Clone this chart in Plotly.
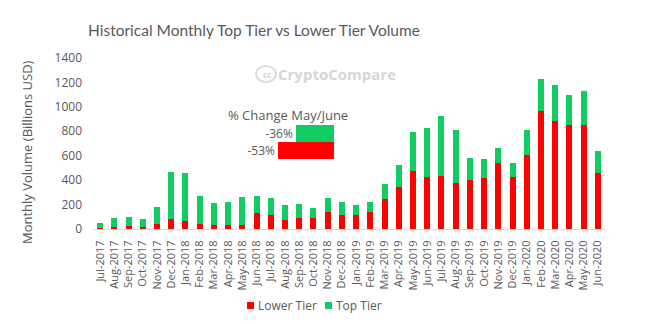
import plotly.graph_objects as go

months = ["Jul-2017", "Aug-2017", "Sep-2017", "Oct-2017", "Nov-2017", "Dec-2017",
          "Jan-2018", "Feb-2018", "Mar-2018", "Apr-2018", "May-2018", "Jun-2018",
          "Jul-2018", "Aug-2018", "Sep-2018", "Oct-2018", "Nov-2018", "Dec-2018",
          "Jan-2019", "Feb-2019", "Mar-2019", "Apr-2019", "May-2019", "Jun-2019",
          "Jul-2019", "Aug-2019", "Sep-2019", "Oct-2019", "Nov-2019", "Dec-2019",
          "Jan-2020", "Feb-2020", "Mar-2020", "Apr-2020", "May-2020", "Jun-2020"]

lower_tier = [10, 20, 28, 20, 42, 85, 68, 42, 33, 33, 33, 134,
              115, 74, 90, 90, 140, 115, 115, 140, 246, 347, 476, 426,
              435, 377, 402, 418, 541, 426, 607, 968, 886, 853, 853, 459]

top_tier = [42, 73, 72, 65, 138, 382, 392, 228, 182, 191, 232, 139,
            139, 123, 115, 82, 114, 106, 82, 81, 123, 178, 319, 402,
            492, 435, 180, 156, 123, 115, 205, 262, 294, 246, 279, 181]

y_ticks = [0, 200, 400, 600, 800, 1000, 1200, 1400]

change_values = [-36, -53]   # Top Tier, Lower Tier

RED = "#FF0000"
GREEN = "#10CC63"
GREY = "#595959"
FONT = "Open Sans"

# plot area in pixels
L, R, T, B = 93, 605, 58, 229
W, H = R - L, B - T


def px(x):
    return (x - L) / W


def py(y):
    return (B - y) / H


def note(text, x, y, size, color=GREY, **kw):
    fig.add_annotation(text=text, xref="paper", yref="paper", x=px(x), y=py(y),
                       showarrow=False, xanchor=kw.pop("xanchor", "center"),
                       yanchor="middle", font=dict(size=size, color=color), **kw)


fig = go.Figure()
fig.add_trace(go.Bar(x=months, y=lower_tier, name="Lower Tier",
                     marker=dict(color=RED, line=dict(width=0)), width=0.42))
fig.add_trace(go.Bar(x=months, y=top_tier, name="Top Tier",
                     marker=dict(color=GREEN, line=dict(width=0)), width=0.42))

# inset: % change May/June
fig.add_trace(go.Bar(x=change_values, y=[1, 0], orientation="h",
                     xaxis="x2", yaxis="y2", width=1, showlegend=False,
                     marker=dict(color=[GREEN, RED], line=dict(width=0)),
                     text=[f"{v}%" for v in change_values], textposition="outside",
                     textfont=dict(size=12, color=GREY, family=FONT),
                     cliponaxis=False, hoverinfo="skip"))

fig.update_layout(
    width=657, height=324,
    margin=dict(l=L, r=657 - R, t=T, b=324 - B, autoexpand=False),
    paper_bgcolor="white", plot_bgcolor="white",
    barmode="stack",
    showlegend=False,
    font=dict(family=FONT, color=GREY),
    title=dict(text="Historical Monthly Top Tier vs Lower Tier Volume",
               x=88 / 657, xanchor="left", y=1 - 31 / 324, yanchor="middle",
               font=dict(size=15.5, color=GREY, family="Lato")),
    xaxis=dict(type="category", tickangle=-90, tickfont=dict(size=11, color=GREY),
               showline=True, linecolor="#D9D9D9", linewidth=1, ticks="",
               showgrid=False, fixedrange=True, automargin=False,
               ticklabelstandoff=6),
    yaxis=dict(range=[0, 1400], tickvals=y_ticks,
               tickfont=dict(size=12, color=GREY), showgrid=False, zeroline=False,
               showline=False, ticks="", ticklabelstandoff=10, automargin=False,
               fixedrange=True),
    xaxis2=dict(domain=[px(278), px(334)], range=[-53, 0],
                anchor="y2", visible=False, fixedrange=True),
    yaxis2=dict(domain=[py(159.3), py(125)], range=[-0.5, 1.5],
                anchor="x2", visible=False, fixedrange=True),
)

# y-axis title
note("Monthly Volume (Billions USD)", 27, 152, 13, textangle=-90)

note("% Change May/June", 288, 115, 13)

# legend
legend_items = [("Lower Tier", RED, 247), ("Top Tier", GREEN, 325)]
for name, color, x0 in legend_items:
    fig.add_shape(type="rect", xref="paper", yref="paper",
                  x0=px(x0), x1=px(x0 + 7), y0=py(309), y1=py(302),
                  fillcolor=color, line=dict(width=0))
    note(name, x0 + 9, 305.5, 12, xanchor="left")

# watermark
note("<b>CryptoCompare</b>", 337, 74, 15, color="#D6D6D6")
fig.add_shape(type="circle", xref="paper", yref="paper",
              x0=px(256), x1=px(276), y0=py(82), y1=py(66),
              line=dict(color="#DCDCDC", width=2))
note("<b>cc</b>", 266.5, 74.5, 8, color="#D6D6D6")

fig.write_html("out.html")
